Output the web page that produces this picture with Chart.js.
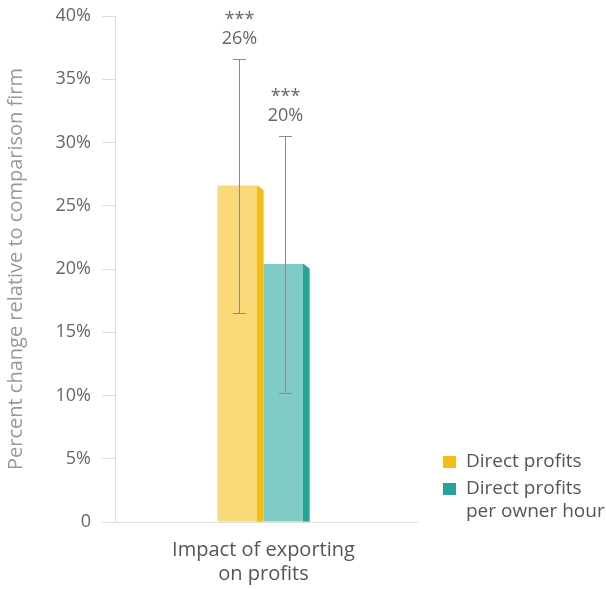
<!DOCTYPE html>
<html>
<head>
<meta charset="utf-8">
<script src="https://cdn.jsdelivr.net/npm/chart.js@4.4.1/dist/chart.umd.min.js"></script>
<style>
  html, body { margin: 0; padding: 0; background: #fff; }
  #wrap { width: 606px; height: 589px; }
</style>
</head>
<body>
<div id="wrap"><canvas id="chart"></canvas></div>
<script>
// data
var categories = [['Impact of exporting', 'on profits']];
var seriesNames = ['Direct profits', 'Direct profits per owner hour'];
var legendLines = [['Direct profits'], ['Direct profits', 'per owner hour']];
var directProfits = [26.6];
var perOwnerHour = [20.4];
var errLow = [16.5, 10.2];
var errHigh = [36.6, 30.5];
var valueLabels = ['26%', '20%'];
var stars = ['***', '***'];
var yTicks = [0, 5, 10, 15, 20, 25, 30, 35, 40];

var frontColors = ['#f8d877', '#80cbc3'];
var sideColors = ['#f2bd16', '#25a497'];
var FONT = "'Open Sans', sans-serif";

// draws the dark right side of each bar, the error bars, the labels and the legend
var extras = {
    id: 'extras',
    afterDatasetsDraw: function (chart) {
        var ctx = chart.ctx;
        var y = chart.scales.y;
        var area = chart.chartArea;
        ctx.save();
        chart.data.datasets.forEach(function (ds, i) {
            var bar = chart.getDatasetMeta(i).data[0];
            var right = bar.x + bar.width / 2;
            var top = bar.y;
            var bottom = bar.base;
            var side = 6.5;
            // cut the top-right corner
            ctx.fillStyle = '#fff';
            ctx.beginPath();
            ctx.moveTo(right - side, top - 1);
            ctx.lineTo(right + 1, top - 1);
            ctx.lineTo(right + 1, top + 5);
            ctx.closePath();
            ctx.fill();
            ctx.fillStyle = sideColors[i];
            ctx.beginPath();
            ctx.moveTo(right - side, top);
            ctx.lineTo(right, top + 5);
            ctx.lineTo(right, bottom);
            ctx.lineTo(right - side, bottom);
            ctx.closePath();
            ctx.fill();

            // error bar
            var ex = Math.round(bar.x - 2) + 0.5;
            var yHi = y.getPixelForValue(errHigh[i]);
            var yLo = y.getPixelForValue(errLow[i]);
            ctx.strokeStyle = '#8c8c8c';
            ctx.lineWidth = 1;
            ctx.beginPath();
            ctx.moveTo(ex, yHi); ctx.lineTo(ex, yLo);
            ctx.moveTo(ex - 6.5, Math.round(yHi) + 0.5); ctx.lineTo(ex + 6.5, Math.round(yHi) + 0.5);
            ctx.moveTo(ex - 6.5, Math.round(yLo) + 0.5); ctx.lineTo(ex + 6.5, Math.round(yLo) + 0.5);
            ctx.stroke();

            // value labels
            ctx.fillStyle = '#666';
            ctx.textAlign = 'center';
            ctx.textBaseline = 'middle';
            ctx.font = '18px ' + FONT;
            ctx.fillText(stars[i], ex, yHi - 39);
            ctx.fillText(valueLabels[i], ex, yHi - 20);
        });

        // stretch the x axis line a little to the right
        ctx.strokeStyle = '#dddddd';
        ctx.beginPath();
        ctx.moveTo(area.right, Math.round(area.bottom) + 0.5);
        ctx.lineTo(area.right + 6, Math.round(area.bottom) + 0.5);
        ctx.stroke();

        // legend
        var lx = 443, ly = [462, 489];
        ctx.textAlign = 'left';
        ctx.font = '19px ' + FONT;
        legendLines.forEach(function (lines, i) {
            ctx.fillStyle = sideColors[i];
            ctx.fillRect(lx, ly[i] - 6, 13, 12);
            ctx.fillStyle = '#555';
            lines.forEach(function (t, k) {
                ctx.fillText(t, lx + 23, ly[i] + k * 23);
            });
        });
        ctx.restore();
    }
};

new Chart(document.getElementById('chart'), {
    type: 'bar',
    data: {
        labels: categories,
        datasets: [
            { label: seriesNames[0], data: directProfits, backgroundColor: frontColors[0] },
            { label: seriesNames[1], data: perOwnerHour, backgroundColor: frontColors[1] }
        ]
    },
    options: {
        responsive: true,
        maintainAspectRatio: false,
        animation: false,
        events: [],
        layout: { padding: { top: 16, right: 194, bottom: 0, left: 0 } },
        datasets: { bar: { categoryPercentage: 92 / 297, barPercentage: 1 } },
        plugins: { legend: { display: false }, tooltip: { enabled: false } },
        scales: {
            x: {
                grid: { display: true, drawOnChartArea: false, drawTicks: false, color: '#dddddd' },
                border: { color: '#dddddd' },
                ticks: { color: '#555', font: { family: FONT, size: 20, lineHeight: 1.2 }, padding: 16 },
                afterFit: function (axis) { axis.height = 67; axis.paddingLeft = 0; axis.paddingRight = 0; }
            },
            y: {
                min: 0,
                max: 40,
                afterBuildTicks: function (axis) {
                    axis.ticks = yTicks.map(function (v) { return { value: v }; });
                },
                grid: { drawOnChartArea: false, drawTicks: true, tickLength: 13, color: '#dddddd' },
                border: { color: '#dddddd' },
                ticks: {
                    color: '#666',
                    font: { family: FONT, size: 18 },
                    padding: 11,
                    callback: function (v) { return v === 0 ? '0' : v + '%'; }
                },
                title: {
                    display: true,
                    text: 'Percent change relative to comparison firm',
                    color: '#999',
                    font: { family: FONT, size: 20 },
                    padding: { top: 4, bottom: 0 }
                },
                afterFit: function (axis) {
                    axis.width = 115;
                    axis.paddingTop = 0;
                    axis.paddingBottom = 0;
                }
            }
        }
    },
    plugins: [extras]
});
</script>
</body>
</html>
